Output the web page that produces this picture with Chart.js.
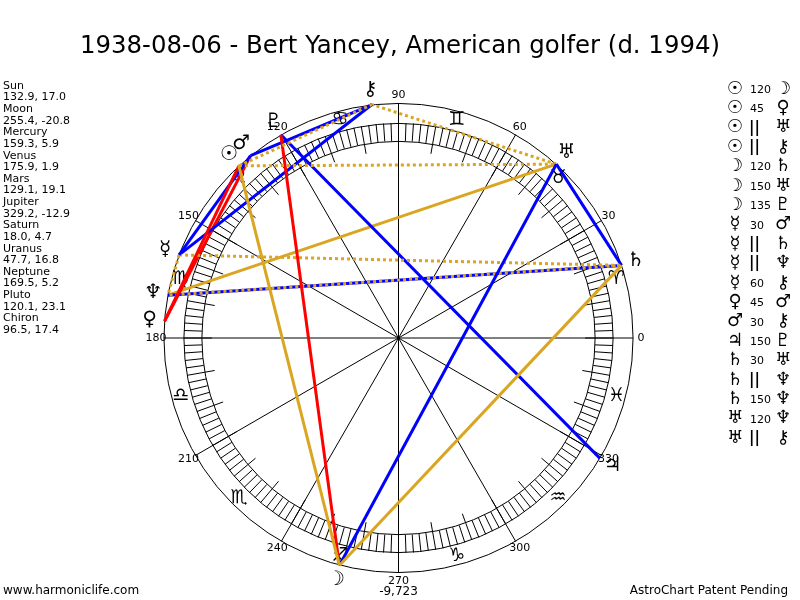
<!DOCTYPE html>
<html>
<head>
<meta charset="utf-8">
<script src="https://cdn.jsdelivr.net/npm/chart.js@4"></script>
<style>
  html, body { margin: 0; padding: 0; background: #fff; }
  canvas { display: block; }
</style>
</head>
<body>
<canvas id="astroChart" width="800" height="600"></canvas>
<script>
const chartTitle = '1938-08-06 - Bert Yancey, American golfer (d. 1994)';
const planetNames = ['Sun', 'Moon', 'Mercury', 'Venus', 'Mars', 'Jupiter', 'Saturn', 'Uranus', 'Neptune', 'Pluto', 'Chiron'];
const planetGlyphs = ['☉', '☽', '☿', '♀', '♂', '♃', '♄', '♅', '♆', '♇', '⚷'];
const longitudes = [132.9, 255.4, 159.3, 175.9, 129.1, 329.2, 18.0, 47.7, 169.5, 120.1, 96.5];
const declinations = [17.0, -20.8, 5.9, 1.9, 19.1, -12.9, 4.7, 16.8, 5.2, 23.1, 17.4];

const aspectFrom = ['Sun', 'Sun', 'Sun', 'Sun', 'Moon', 'Moon', 'Moon', 'Mercury', 'Mercury', 'Mercury', 'Mercury', 'Venus', 'Mars', 'Jupiter', 'Saturn', 'Saturn', 'Saturn', 'Uranus', 'Uranus'];
const aspectKinds = ['120', '45', '||', '||', '120', '150', '135', '30', '||', '||', '60', '45', '30', '150', '30', '||', '150', '120', '||'];
const aspectTo = ['Moon', 'Venus', 'Uranus', 'Chiron', 'Saturn', 'Uranus', 'Pluto', 'Mars', 'Saturn', 'Neptune', 'Chiron', 'Mars', 'Chiron', 'Pluto', 'Uranus', 'Neptune', 'Neptune', 'Neptune', 'Chiron'];

const degreeTicks = [0, 30, 60, 90, 120, 150, 180, 210, 240, 270, 300, 330];
const signGlyphs = ['♈', '♉', '♊', '♋', '♌', '♍', '♎', '♏', '♐', '♑', '♒', '♓'];
const bottomValue = '-9,723';
const footerLeft = 'www.harmoniclife.com';
const footerRight = 'AstroChart Patent Pending';

// chart units are pixels around the wheel centre
const R_OUTER = 235, R_BAND_OUT = 215, R_BAND_IN = 197, R_TICK = 187;
const R_SIGN = 226, R_LABEL = 243, R_GLYPH = 250;
const FONT = '"DejaVu Sans", Verdana, sans-serif';

const aspectStyle = {
  '30': { color: '#0000FF', dash: [] },
  '60': { color: '#0000FF', dash: [] },
  '150': { color: '#0000FF', dash: [] },
  '45': { color: '#FF0000', dash: [] },
  '135': { color: '#FF0000', dash: [] },
  '120': { color: '#DAA520', dash: [] },
  '||': { color: '#DAA520', dash: [3, 3] }
};

function polar(lon, r) {
  const a = lon * Math.PI / 180;
  return { x: r * Math.cos(a), y: r * Math.sin(a) };
}

function lonOf(name) {
  return longitudes[planetNames.indexOf(name)];
}

const datasets = aspectFrom.map((from, i) => {
  const st = aspectStyle[aspectKinds[i]];
  return {
    label: from + ' ' + aspectKinds[i] + ' ' + aspectTo[i],
    data: [polar(lonOf(from), R_OUTER), polar(lonOf(aspectTo[i]), R_OUTER)],
    showLine: true,
    borderColor: st.color,
    borderWidth: 3,
    borderDash: st.dash,
    pointRadius: 0
  };
});

const wheelPlugin = {
  id: 'wheel',
  beforeDatasetsDraw(chart) {
    const ctx = chart.ctx;
    const xs = chart.scales.x, ys = chart.scales.y;
    const cx = xs.getPixelForValue(0), cy = ys.getPixelForValue(0);
    const k = xs.getPixelForValue(1) - cx;
    const pt = (lon, r) => {
      const p = polar(lon, r);
      return [xs.getPixelForValue(p.x), ys.getPixelForValue(p.y)];
    };
    ctx.save();
    ctx.strokeStyle = '#000';
    ctx.lineWidth = 1;
    [R_OUTER, R_BAND_OUT, R_BAND_IN].forEach(r => {
      ctx.beginPath();
      ctx.arc(cx, cy, r * k, 0, Math.PI * 2);
      ctx.stroke();
    });
    // hatch band
    ctx.beginPath();
    for (let d = 0; d < 360; d += 2) {
      const a = pt(d, R_BAND_IN), b = pt(d, R_BAND_OUT);
      ctx.moveTo(a[0], a[1]);
      ctx.lineTo(b[0], b[1]);
    }
    for (let d = 0; d < 360; d += 10) {
      const a = pt(d, R_TICK), b = pt(d, R_BAND_IN);
      ctx.moveTo(a[0], a[1]);
      ctx.lineTo(b[0], b[1]);
    }
    degreeTicks.forEach(d => {
      const b = pt(d, R_OUTER);
      ctx.moveTo(cx, cy);
      ctx.lineTo(b[0], b[1]);
    });
    ctx.stroke();

    ctx.fillStyle = '#000';
    ctx.textAlign = 'center';
    ctx.textBaseline = 'middle';
    ctx.font = '11px ' + FONT;
    degreeTicks.forEach(d => {
      const p = pt(d, R_LABEL);
      ctx.fillText(String(d), p[0], p[1]);
    });
    const p270 = pt(270, R_LABEL);
    ctx.font = '12px ' + FONT;
    ctx.fillText(bottomValue, p270[0], p270[1] + 11);

    ctx.font = '19px ' + FONT;
    signGlyphs.forEach((g, i) => {
      const p = pt(i * 30 + 15, R_SIGN);
      ctx.fillText(g, p[0], p[1]);
    });
    ctx.restore();
  },
  afterDatasetsDraw(chart) {
    const ctx = chart.ctx;
    const xs = chart.scales.x, ys = chart.scales.y;
    ctx.save();
    ctx.fillStyle = '#000';
    ctx.textAlign = 'center';
    ctx.textBaseline = 'middle';
    ctx.font = '20px ' + FONT;
    longitudes.forEach((lon, i) => {
      const p = polar(lon, R_GLYPH);
      ctx.fillText(planetGlyphs[i], xs.getPixelForValue(p.x), ys.getPixelForValue(p.y));
    });

    // title
    ctx.font = '24.4px ' + FONT;
    ctx.fillText(chartTitle, 400, 47);

    // planet positions list
    ctx.textAlign = 'left';
    ctx.font = '11px ' + FONT;
    planetNames.forEach((n, i) => {
      ctx.fillText(n, 3, 86 + i * 23.24);
      ctx.fillText(longitudes[i].toFixed(1) + ', ' + declinations[i].toFixed(1), 3, 86 + i * 23.24 + 11.62);
    });

    // aspect list
    aspectFrom.forEach((from, i) => {
      const y = 89 + i * 19.4;
      ctx.textAlign = 'center';
      ctx.font = '18px ' + FONT;
      ctx.fillText(planetGlyphs[planetNames.indexOf(from)], 735, y);
      ctx.fillText(planetGlyphs[planetNames.indexOf(aspectTo[i])], 783, y);
      ctx.textAlign = 'left';
      if (aspectKinds[i] === '||') {
        ctx.font = 'bold 15px ' + FONT;
        ctx.fillText('||', 749, y);
      } else {
        ctx.font = '11px ' + FONT;
        ctx.fillText(aspectKinds[i], 750, y + 1);
      }
    });

    // footer
    ctx.font = '12px ' + FONT;
    ctx.textAlign = 'left';
    ctx.fillText(footerLeft, 3, 591);
    ctx.textAlign = 'right';
    ctx.fillText(footerRight, 788, 591);
    ctx.restore();
  }
};

new Chart(document.getElementById('astroChart'), {
  type: 'scatter',
  data: { datasets: datasets },
  options: {
    responsive: false,
    animation: false,
    devicePixelRatio: 1,
    layout: { padding: { left: 139, right: 142, top: 78, bottom: 2 } },
    scales: {
      x: { type: 'linear', min: -260, max: 260, display: false },
      y: { type: 'linear', min: -260, max: 260, display: false }
    },
    plugins: {
      legend: { display: false },
      tooltip: { enabled: false }
    }
  },
  plugins: [wheelPlugin]
});
</script>
</body>
</html>
